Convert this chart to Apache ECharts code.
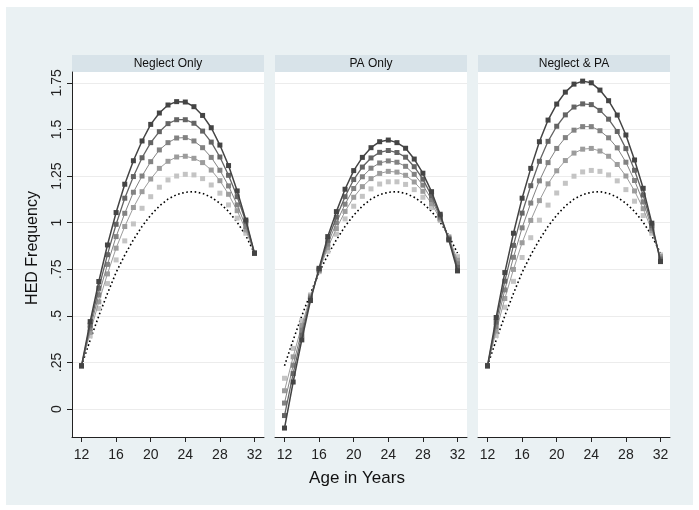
<!DOCTYPE html>
<html>
<head>
<meta charset="utf-8">
<script src="https://cdn.jsdelivr.net/npm/echarts@6/dist/echarts.min.js"></script>
<style>
html,body{margin:0;padding:0;background:#ffffff;}
#chart{width:699px;height:510px;}
</style>
</head>
<body>
<div id="chart"></div>
<script>
// ---- data ----
const ages = [12,13,14,15,16,17,18,19,20,21,22,23,24,25,26,27,28,29,30,31,32];
const panelTitles = ['Neglect Only', 'PA Only', 'Neglect & PA'];
const xTicks = [12,16,20,24,28,32];
const yTicks = [0,0.25,0.5,0.75,1,1.25,1.5,1.75];
const yTickLabels = ['0','.25','.5','.75','1','1.25','1.5','1.75'];
const xTitle = 'Age in Years';
const yTitle = 'HED Frequency';

// dotted reference curve (same in all panels)
const baseline = [0.232,0.370,0.500,0.620,0.733,0.826,0.908,0.980,1.040,1.089,1.126,1.150,1.163,1.166,1.157,1.136,1.104,1.060,1.002,0.930,0.836];

// Neglect Only (level 1 = lightest ... level 5 = darkest)
const neglect1 = [0.232,0.392,0.539,0.673,0.800,0.902,0.993,1.077,1.139,1.190,1.229,1.250,1.259,1.256,1.236,1.202,1.158,1.095,1.024,0.943,0.836];
const neglect2 = [0.232,0.411,0.575,0.725,0.863,0.979,1.081,1.166,1.234,1.291,1.329,1.352,1.356,1.345,1.322,1.282,1.225,1.152,1.064,0.961,0.836];
const neglect3 = [0.232,0.431,0.612,0.776,0.925,1.050,1.163,1.250,1.327,1.390,1.429,1.454,1.456,1.438,1.402,1.350,1.281,1.197,1.095,0.979,0.836];
const neglect4 = [0.232,0.450,0.648,0.828,0.991,1.131,1.247,1.348,1.429,1.488,1.531,1.552,1.552,1.533,1.491,1.432,1.352,1.254,1.139,1.005,0.836];
const neglect5 = [0.232,0.469,0.684,0.880,1.054,1.206,1.332,1.438,1.527,1.588,1.631,1.649,1.647,1.622,1.575,1.509,1.416,1.306,1.170,1.014,0.836];

// PA Only
const pa1 = [0.165,0.325,0.474,0.612,0.737,0.846,0.938,1.020,1.088,1.141,1.181,1.207,1.219,1.219,1.205,1.177,1.136,1.081,1.011,0.925,0.817];
const pa2 = [0.098,0.280,0.448,0.605,0.742,0.866,0.968,1.060,1.136,1.193,1.236,1.264,1.275,1.271,1.254,1.218,1.168,1.102,1.019,0.921,0.798];
const pa3 = [0.032,0.235,0.423,0.597,0.746,0.885,0.999,1.099,1.183,1.246,1.292,1.320,1.331,1.324,1.302,1.259,1.201,1.124,1.028,0.916,0.779];
const pa4 = [-0.035,0.190,0.397,0.590,0.751,0.905,1.029,1.139,1.231,1.298,1.347,1.377,1.387,1.376,1.351,1.300,1.233,1.145,1.036,0.912,0.760];
const pa5 = [-0.102,0.145,0.371,0.582,0.755,0.925,1.059,1.179,1.279,1.350,1.402,1.434,1.443,1.429,1.399,1.341,1.265,1.166,1.045,0.907,0.741];

// Neglect & PA
const both1 = [0.232,0.394,0.546,0.685,0.813,0.919,1.013,1.094,1.159,1.211,1.249,1.272,1.280,1.275,1.256,1.224,1.177,1.115,1.038,0.943,0.827];
const both2 = [0.232,0.418,0.593,0.749,0.892,1.012,1.118,1.208,1.278,1.333,1.373,1.394,1.398,1.384,1.356,1.312,1.250,1.170,1.075,0.957,0.818];
const both3 = [0.232,0.443,0.639,0.814,0.972,1.105,1.224,1.322,1.398,1.456,1.496,1.515,1.515,1.493,1.455,1.401,1.324,1.226,1.111,0.970,0.809];
const both4 = [0.232,0.467,0.686,0.878,1.051,1.198,1.329,1.436,1.517,1.578,1.620,1.637,1.633,1.602,1.555,1.489,1.397,1.281,1.148,0.984,0.800];
const both5 = [0.232,0.491,0.732,0.943,1.131,1.291,1.434,1.550,1.636,1.700,1.743,1.759,1.750,1.711,1.654,1.577,1.470,1.336,1.184,0.997,0.791];

const panelLevels = [
  [neglect1, neglect2, neglect3, neglect4, neglect5],
  [pa1, pa2, pa3, pa4, pa5],
  [both1, both2, both3, both4, both5]
];

// ---- styles ----
const levelStyles = [
  {color:'#c4c4c4', width:0, opacity:0, size:5},
  {color:'#9c9c9c', width:1, opacity:1, size:5},
  {color:'#828282', width:1, opacity:1, size:5},
  {color:'#646464', width:1.3, opacity:1, size:5},
  {color:'#444444', width:1.5, opacity:1, size:5}
];
const FONT = "'Liberation Sans', Arial, Helvetica, sans-serif";
const panelLefts = [72, 275, 478];
const panelWidth = 192;
const gridTop = 72, gridBottom = 437;

const grids = [], xAxes = [], yAxes = [], series = [], graphics = [];

graphics.push({type:'rect', shape:{x:6, y:7, width:687, height:498}, style:{fill:'#eaf1f3'}, z:-10, silent:true});

panelLefts.forEach((left, i) => {
  grids.push({left:left, top:gridTop, width:panelWidth, height:gridBottom-gridTop, show:true, backgroundColor:'#ffffff', borderWidth:0, containLabel:false});
  xAxes.push({
    type:'value', gridIndex:i, min:10.9, max:33.1,
    axisLine:{show:true, onZero:false, lineStyle:{color:'#222', width:1}},
    axisTick:{show:true, length:5, customValues:xTicks, lineStyle:{color:'#222'}},
    axisLabel:{show:true, customValues:xTicks, margin:11, fontSize:14, color:'#222', fontFamily:FONT},
    splitLine:{show:false}
  });
  yAxes.push({
    type:'value', gridIndex:i, min:-0.15, max:1.808,
    axisLine:{show:i===0, onZero:false, lineStyle:{color:'#222', width:1}},
    axisTick:{show:i===0, length:5, customValues:yTicks, lineStyle:{color:'#222'}},
    axisLabel:{show:i===0, customValues:yTicks, rotate:90, margin:8, fontSize:14, color:'#222', fontFamily:FONT,
      formatter:(v)=>{ const k = yTicks.findIndex(t=>Math.abs(t-v)<1e-6); return k>=0 ? yTickLabels[k] : ''; }},
    splitLine:{show:true, lineStyle:{color:'#ececec', width:1}}
  });
  // header band
  graphics.push({type:'rect', shape:{x:left, y:55, width:panelWidth, height:17}, style:{fill:'#d8e3e9'}, silent:true});
  graphics.push({type:'text', x:left+panelWidth/2, y:63.5, style:{text:panelTitles[i], fill:'#111', font:'12px ' + FONT, align:'center', verticalAlign:'middle'}, silent:true});

  // dotted baseline
  series.push({
    type:'line', xAxisIndex:i, yAxisIndex:i, name:'Baseline',
    data: ages.map((a,k)=>[a, baseline[k]]),
    showSymbol:false, symbol:'none', smooth:false,
    lineStyle:{color:'#000', width:1.6, type:[1.6,2.6]},
    z:2
  });
  panelLevels[i].forEach((vals, L) => {
    const st = levelStyles[L];
    series.push({
      type:'line', xAxisIndex:i, yAxisIndex:i, name:'Level ' + (L+1),
      data: ages.map((a,k)=>[a, vals[k]]),
      symbol:'rect', symbolSize:st.size, showSymbol:true,
      itemStyle:{color:st.color},
      lineStyle:{color:st.color, width:st.width, opacity:st.opacity},
      z:3+L
    });
  });
});

// axis titles
graphics.push({type:'text', x:357, y:478, style:{text:xTitle, fill:'#111', font:'17px ' + FONT, align:'center', verticalAlign:'middle'}, silent:true});
graphics.push({type:'text', x:33, y:248, rotation:Math.PI/2, style:{text:yTitle, fill:'#111', font:'16px ' + FONT, align:'center', verticalAlign:'middle'}, silent:true});

const chart = echarts.init(document.getElementById('chart'), null, {renderer:'canvas'});
chart.setOption({
  animation:false,
  backgroundColor:'#ffffff',
  grid:grids, xAxis:xAxes, yAxis:yAxes, series:series, graphic:graphics
});
</script>
</body>
</html>
